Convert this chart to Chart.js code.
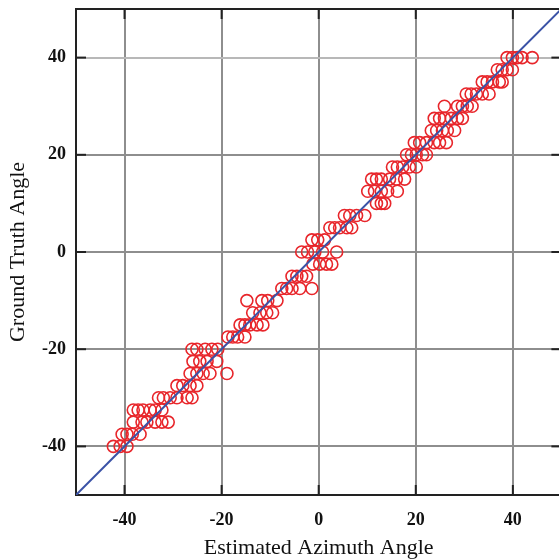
<!DOCTYPE html>
<html><head><meta charset="utf-8">
<script src="https://cdn.jsdelivr.net/npm/chart.js@4/dist/chart.umd.min.js"></script>
<style>html,body{margin:0;padding:0;overflow:hidden;background:#fff}canvas{display:block}</style>
</head><body><canvas id="c" width="569" height="559" style="width:569px;height:559px"></canvas>
<script>
const estimatedAngle = [
  38.8, 39.9, 40.9, 41.9, 44.0,
  36.8, 37.8, 38.8, 39.9,
  33.7, 34.7, 35.8, 37.2, 37.8,
  30.4, 31.4, 32.5, 33.7, 35.1,
  25.9, 28.6, 29.6, 30.6, 31.6,
  23.8, 24.9, 25.9, 27.3, 28.6, 29.6,
  23.2, 24.3, 25.5, 26.5, 28.0,
  19.7, 20.8, 22.2, 23.8, 24.9, 26.3,
  18.1, 19.1, 20.1, 21.4, 22.2,
  15.2, 16.2, 17.3, 18.7, 20.1,
  10.9, 11.9, 12.9, 14.6, 16.0, 17.7,
  10.1, 11.5, 12.9, 14.2, 16.2,
  11.9, 12.9, 13.6,
  5.3, 6.4, 7.8, 9.5,
  2.3, 3.3, 4.3, 5.8, 6.8,
  -1.4, -0.2, 1.2,
  -3.5, -2.3, -0.8, 0.8, 3.7,
  -1.2, 0.2, 1.6, 2.7,
  -5.5, -4.5, -3.5, -2.5,
  -7.6, -6.6, -5.5, -3.9, -1.4,
  -14.8, -11.7, -10.5, -8.6,
  -13.6, -12.1, -10.7, -9.5,
  -16.2, -15.2, -14.2, -12.7, -11.5,
  -18.7, -17.7, -16.7, -15.2,
  -26.1, -25.1, -23.4, -22.0, -20.8,
  -25.9, -24.5, -23.0, -21.0,
  -26.5, -25.1, -23.8, -22.4, -18.9,
  -29.2, -28.0, -26.5, -25.1,
  -33.0, -32.0, -30.6, -29.2, -27.1, -26.1,
  -38.2, -37.2, -36.2, -34.7, -33.7, -32.3,
  -38.2, -36.4, -35.4, -33.7, -32.3, -31.0,
  -40.5, -39.5, -38.4, -36.8,
  -42.3, -40.9, -39.5
];
const groundTruthAngle = [
  40, 40, 40, 40, 40,
  37.5, 37.5, 37.5, 37.5,
  35, 35, 35, 35, 35,
  32.5, 32.5, 32.5, 32.5, 32.5,
  30, 30, 30, 30, 30,
  27.5, 27.5, 27.5, 27.5, 27.5, 27.5,
  25, 25, 25, 25, 25,
  22.5, 22.5, 22.5, 22.5, 22.5, 22.5,
  20, 20, 20, 20, 20,
  17.5, 17.5, 17.5, 17.5, 17.5,
  15, 15, 15, 15, 15, 15,
  12.5, 12.5, 12.5, 12.5, 12.5,
  10, 10, 10,
  7.5, 7.5, 7.5, 7.5,
  5, 5, 5, 5, 5,
  2.5, 2.5, 2.5,
  0, 0, 0, 0, 0,
  -2.5, -2.5, -2.5, -2.5,
  -5, -5, -5, -5,
  -7.5, -7.5, -7.5, -7.5, -7.5,
  -10, -10, -10, -10,
  -12.5, -12.5, -12.5, -12.5,
  -15, -15, -15, -15, -15,
  -17.5, -17.5, -17.5, -17.5,
  -20, -20, -20, -20, -20,
  -22.5, -22.5, -22.5, -22.5,
  -25, -25, -25, -25, -25,
  -27.5, -27.5, -27.5, -27.5,
  -30, -30, -30, -30, -30, -30,
  -32.5, -32.5, -32.5, -32.5, -32.5, -32.5,
  -35, -35, -35, -35, -35, -35,
  -37.5, -37.5, -37.5, -37.5,
  -40, -40, -40
];
const tickValues = [-40, -20, 0, 20, 40];
const axisRange = [-50, 50];
const xTitle = 'Estimated Azimuth Angle';
const yTitle = 'Ground Truth Angle';

const scatterPoints = estimatedAngle.map((x, i) => ({ x: x, y: groundTruthAngle[i] }));
const identityLine = axisRange.map(v => ({ x: v, y: v }));

const tickFont = { family: 'Liberation Serif', size: 18, weight: 'bold' };
const titleFont = { family: 'Liberation Serif', size: 22, weight: 'normal', lineHeight: 1.0 };

const framePlugin = {
  id: 'frame',
  afterDraw(chart) {
    const { ctx, chartArea: a, scales: { x, y } } = chart;
    ctx.save();
    ctx.strokeStyle = '#222';
    ctx.lineWidth = 2;
    const seg = (x1, y1, x2, y2) => { ctx.beginPath(); ctx.moveTo(x1, y1); ctx.lineTo(x2, y2); ctx.stroke(); };
    seg(a.left - 1, a.top, a.right, a.top);
    const L = 10;
    tickValues.forEach(v => {
      const py = y.getPixelForValue(v);
      seg(a.left, py, a.left + L, py);
      seg(a.right - L, py, a.right, py);
      const px = x.getPixelForValue(v);
      seg(px, a.bottom, px, a.bottom - L);
      seg(px, a.top, px, a.top + L);
    });
    ctx.restore();
  }
};

const fixTicks = s => { s.ticks = tickValues.map(v => ({ value: v })); };

new Chart(document.getElementById('c'), {
  type: 'scatter',
  data: {
    datasets: [
      {
        type: 'line',
        data: identityLine,
        borderColor: '#3a52a6',
        borderWidth: 2,
        pointRadius: 0,
        fill: false
      },
      {
        type: 'scatter',
        data: scatterPoints,
        pointStyle: 'circle',
        pointRadius: 6,
        pointBorderWidth: 1.6,
        borderColor: '#e8262b',
        backgroundColor: 'rgba(0,0,0,0)'
      }
    ]
  },
  options: {
    responsive: false,
    maintainAspectRatio: false,
    devicePixelRatio: 1,
    animation: false,
    events: [],
    layout: { padding: { top: 9, right: 1, left: 0, bottom: 0 } },
    plugins: { legend: { display: false }, tooltip: { enabled: false } },
    scales: {
      x: {
        type: 'linear',
        min: axisRange[0], max: axisRange[1],
        afterBuildTicks: fixTicks,
        afterFit: s => { s.height = 64; s.paddingLeft = 0; s.paddingRight = 0; },
        grid: { color: '#8e8e8e', lineWidth: 2, drawTicks: false },
        border: { color: '#222', width: 2 },
        ticks: { font: tickFont, color: '#111', padding: 15 },
        title: { display: true, text: xTitle, font: titleFont, color: '#111', padding: { top: 0, bottom: 0 } }
      },
      y: {
        type: 'linear',
        min: axisRange[0], max: axisRange[1],
        afterBuildTicks: fixTicks,
        afterFit: s => { s.width = 76; s.paddingTop = 0; s.paddingBottom = 0; },
        grid: { color: ctx => (ctx.tick && ctx.tick.value === 40 ? '#b8b8b8' : '#8e8e8e'), lineWidth: 2, drawTicks: false },
        border: { color: '#222', width: 2 },
        ticks: { font: tickFont, color: '#111', padding: 10 },
        title: { display: true, text: yTitle, font: titleFont, color: '#111', padding: { top: 7, bottom: 0 } }
      }
    }
  },
  plugins: [framePlugin]
});
</script>
</body></html>
